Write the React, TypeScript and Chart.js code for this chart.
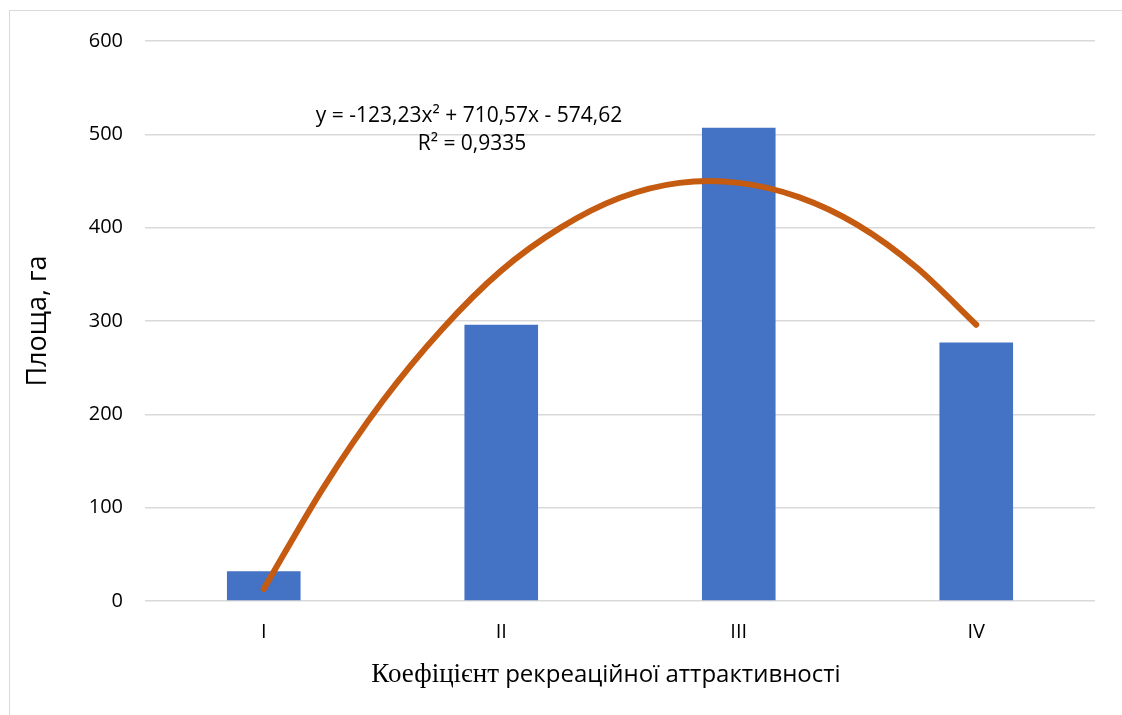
import React, { useEffect, useRef } from "react";
import { Chart, registerables } from "chart.js";

Chart.register(...registerables);

const categories = ["I", "II", "III", "IV"];
const areaValues = [32, 296, 507, 277];
const trendX = [1, 1.25, 1.5, 1.75, 2, 2.25, 2.5, 2.75, 3, 3.25, 3.5, 3.75, 4];
const trendY = [13, 121, 214, 291, 354, 400, 432, 448, 448, 433, 403, 357, 296];
const yTicks = [0, 100, 200, 300, 400, 500, 600];
const equationText = "y = -123,23x² + 710,57x - 574,62";
const r2Text = "R² = 0,9335";
const xTitleSerif = "Коефіцієнт";
const xTitleSans = " рекреаційної аттрактивності";
const yTitle = "Площа, га";

const SANS = "'Open Sans', 'Noto Sans', sans-serif";
const SERIF = "'Liberation Serif', 'DejaVu Serif', serif";

const textPlugin = {
  id: "textPlugin",
  afterDraw(chart: any) {
    const ctx = chart.ctx as CanvasRenderingContext2D;
    const area = chart.chartArea;
    ctx.save();
    ctx.fillStyle = "#000000";
    // equation
    ctx.font = `21px ${SANS}`;
    ctx.textAlign = "center";
    ctx.textBaseline = "alphabetic";
    ctx.fillText(equationText, 469, 122);
    ctx.fillText(r2Text, 472, 150);
    // x title
    ctx.textAlign = "left";
    ctx.font = `27px ${SERIF}`;
    const w1 = ctx.measureText(xTitleSerif).width;
    ctx.font = `24px ${SANS}`;
    const w2 = ctx.measureText(xTitleSans).width;
    const cx = 606;
    const startX = cx - (w1 + w2) / 2;
    ctx.font = `27px ${SERIF}`;
    ctx.fillText(xTitleSerif, startX, 682);
    ctx.font = `24px ${SANS}`;
    ctx.fillText(xTitleSans, startX + w1, 682);
    // y title
    ctx.translate(38, (area.top + area.bottom) / 2);
    ctx.rotate(-Math.PI / 2);
    ctx.textAlign = "center";
    ctx.textBaseline = "middle";
    ctx.font = `27px ${SANS}`;
    ctx.fillText(yTitle, 0, 0);
    ctx.restore();
  },
};

export default function App() {
  const ref = useRef<HTMLCanvasElement | null>(null);
  useEffect(() => {
    if (!ref.current) return;
    const chart = new Chart(ref.current, {
      type: "bar",
      data: {
        labels: categories,
        datasets: [
          {
            type: "bar",
            data: areaValues,
            backgroundColor: "#4472C4",
            borderWidth: 0,
            barPercentage: 0.31,
            categoryPercentage: 1,
            grouped: false,
            xAxisID: "x",
            order: 2,
          } as any,
          {
            type: "line",
            data: trendX.map((x, i) => ({ x, y: trendY[i] })),
            borderColor: "#C55A11",
            borderWidth: 6,
            borderCapStyle: "round",
            borderJoinStyle: "round",
            pointRadius: 0,
            tension: 0.3,
            fill: false,
            xAxisID: "x2",
            order: 1,
          } as any,
        ],
      },
      options: {
        responsive: false,
        animation: false,
        layout: { padding: { top: 41, right: 27, left: 0, bottom: 0 } },
        plugins: {
          legend: { display: false },
          tooltip: { enabled: false },
          title: { display: false },
        },
        scales: {
          x: {
            type: "category",
            grid: { display: false, drawTicks: false },
            border: { display: false },
            ticks: {
              padding: 19,
              color: "#000000",
              font: { family: SANS, size: 20 },
            },
            afterFit: (s: any) => {
              s.height = 114;
            },
          },
          x2: {
            type: "linear",
            display: false,
            offset: false,
            min: 0.5,
            max: 4.5,
          },
          y: {
            min: 0,
            max: 600,
            afterBuildTicks: (s: any) => {
              s.ticks = yTicks.map((v) => ({ value: v }));
            },
            grid: { color: "#D9D9D9", lineWidth: 1.5, drawTicks: false },
            border: { display: false },
            ticks: {
              padding: 22,
              color: "#000000",
              font: { family: SANS, size: 20 },
            },
            afterFit: (s: any) => {
              s.width = 145;
            },
          },
        },
      },
      plugins: [textPlugin],
    } as any);
    return () => chart.destroy();
  }, []);
  return (
    <div style={{ position: "fixed", left: 0, top: 0, width: 1122, height: 715, background: "#fff" }}>
      <div
        style={{
          position: "absolute",
          left: 9,
          top: 10,
          width: 1200,
          height: 800,
          border: "1px solid #D9D9D9",
          boxSizing: "border-box",
        }}
      />
      <canvas ref={ref} width={1122} height={715} style={{ position: "absolute", left: 0, top: 0 }} />
    </div>
  );
}
